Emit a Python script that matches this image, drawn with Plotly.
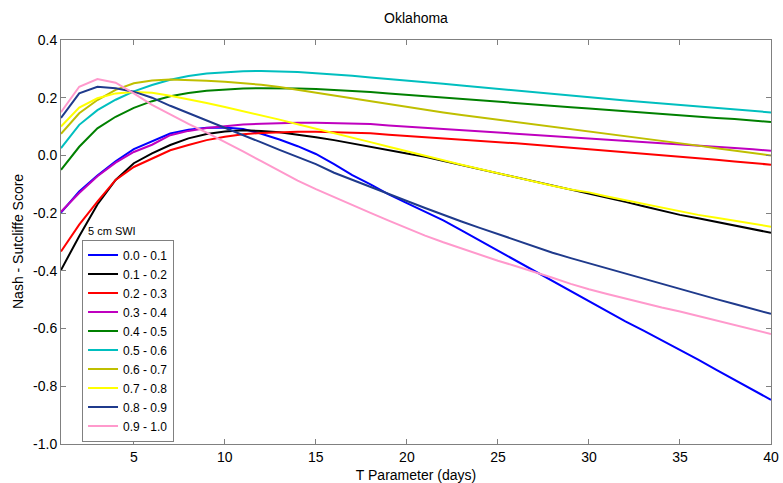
import plotly.graph_objects as go

t_days = list(range(1, 41))

swi_labels = ["0.0 - 0.1", "0.1 - 0.2", "0.2 - 0.3", "0.3 - 0.4", "0.4 - 0.5",
              "0.5 - 0.6", "0.6 - 0.7", "0.7 - 0.8", "0.8 - 0.9", "0.9 - 1.0"]
colors = ["#0000FF", "#000000", "#FF0000", "#BF00BF", "#008000",
          "#00BFBF", "#BFBF00", "#FFFF00", "#1F3A8C", "#FF99CC"]

swi_00_01 = [-0.198, -0.125, -0.07, -0.02, 0.022, 0.05, 0.076, 0.089, 0.096, 0.097,
             0.092, 0.075, 0.055, 0.032, 0.005, -0.03, -0.068, -0.1, -0.135, -0.165,
             -0.195, -0.225, -0.26, -0.295, -0.33, -0.365, -0.4, -0.435, -0.47, -0.507,
             -0.54, -0.575, -0.607, -0.64, -0.674, -0.708, -0.743, -0.778, -0.812, -0.847]
swi_01_02 = [-0.397, -0.28, -0.17, -0.085, -0.027, 0.007, 0.036, 0.059, 0.074, 0.083,
             0.087, 0.085, 0.08, 0.072, 0.063, 0.053, 0.042, 0.031, 0.019, 0.007,
             -0.005, -0.019, -0.033, -0.047, -0.061, -0.075, -0.089, -0.103, -0.117, -0.131,
             -0.146, -0.161, -0.176, -0.191, -0.206, -0.218, -0.231, -0.243, -0.256, -0.268]
swi_02_03 = [-0.333, -0.24, -0.16, -0.085, -0.04, -0.01, 0.018, 0.036, 0.053, 0.065,
             0.073, 0.078, 0.081, 0.082, 0.082, 0.081, 0.079, 0.077, 0.072, 0.068,
             0.064, 0.06, 0.056, 0.051, 0.047, 0.042, 0.037, 0.032, 0.026, 0.021,
             0.016, 0.011, 0.006, 0.001, -0.004, -0.01, -0.015, -0.021, -0.026, -0.032]
swi_03_04 = [-0.195, -0.13, -0.072, -0.025, 0.012, 0.037, 0.07, 0.085, 0.095, 0.102,
             0.107, 0.11, 0.112, 0.113, 0.113, 0.112, 0.111, 0.109, 0.104, 0.1,
             0.096, 0.092, 0.088, 0.084, 0.08, 0.076, 0.071, 0.067, 0.063, 0.059,
             0.055, 0.051, 0.048, 0.044, 0.04, 0.035, 0.03, 0.026, 0.021, 0.016]
swi_04_05 = [-0.05, 0.03, 0.094, 0.134, 0.165, 0.188, 0.205, 0.216, 0.224, 0.229,
             0.232, 0.233, 0.233, 0.232, 0.23, 0.227, 0.224, 0.22, 0.215, 0.21,
             0.205, 0.2, 0.195, 0.19, 0.185, 0.18, 0.175, 0.171, 0.167, 0.163,
             0.158, 0.154, 0.149, 0.145, 0.14, 0.135, 0.13, 0.126, 0.121, 0.116]
swi_05_06 = [0.025, 0.106, 0.157, 0.193, 0.222, 0.244, 0.262, 0.275, 0.284, 0.289,
             0.292, 0.293, 0.292, 0.289, 0.285, 0.281, 0.276, 0.27, 0.265, 0.259,
             0.253, 0.248, 0.242, 0.236, 0.231, 0.225, 0.219, 0.213, 0.207, 0.201,
             0.196, 0.19, 0.185, 0.18, 0.175, 0.17, 0.164, 0.159, 0.154, 0.149]
swi_06_07 = [0.075, 0.146, 0.192, 0.227, 0.25, 0.26, 0.263, 0.262, 0.259, 0.255,
             0.25, 0.245, 0.237, 0.227, 0.217, 0.207, 0.197, 0.187, 0.177, 0.167,
             0.157, 0.149, 0.14, 0.132, 0.124, 0.115, 0.107, 0.099, 0.091, 0.083,
             0.075, 0.066, 0.058, 0.05, 0.042, 0.034, 0.025, 0.017, 0.008, 0.0]
swi_07_08 = [0.1, 0.166, 0.198, 0.215, 0.22, 0.217, 0.207, 0.195, 0.182, 0.168,
             0.154, 0.139, 0.124, 0.108, 0.093, 0.077, 0.061, 0.046, 0.03, 0.014,
             -0.002, -0.017, -0.032, -0.047, -0.062, -0.077, -0.091, -0.105, -0.118, -0.128,
             -0.142, -0.155, -0.169, -0.182, -0.195, -0.206, -0.216, -0.227, -0.237, -0.247]
swi_08_09 = [0.13, 0.215, 0.238, 0.233, 0.221, 0.2, 0.172, 0.147, 0.12, 0.095,
             0.07, 0.045, 0.019, -0.006, -0.03, -0.06, -0.085, -0.11, -0.133, -0.158,
             -0.182, -0.206, -0.229, -0.251, -0.273, -0.294, -0.315, -0.337, -0.356, -0.374,
             -0.392, -0.41, -0.428, -0.446, -0.463, -0.48, -0.498, -0.515, -0.532, -0.549]
swi_09_10 = [0.15, 0.238, 0.265, 0.252, 0.215, 0.175, 0.142, 0.109, 0.079, 0.047,
             0.014, -0.02, -0.054, -0.087, -0.117, -0.145, -0.172, -0.199, -0.226, -0.252,
             -0.278, -0.301, -0.323, -0.345, -0.365, -0.384, -0.403, -0.424, -0.445, -0.464,
             -0.48, -0.496, -0.512, -0.527, -0.541, -0.557, -0.573, -0.589, -0.604, -0.619]

series = [swi_00_01, swi_01_02, swi_02_03, swi_03_04, swi_04_05,
          swi_05_06, swi_06_07, swi_07_08, swi_08_09, swi_09_10]

x_ticks = [5, 10, 15, 20, 25, 30, 35, 40]
y_ticks = [-1.0, -0.8, -0.6, -0.4, -0.2, 0.0, 0.2, 0.4]

FONT = "Arial, Liberation Sans, sans-serif"

fig = go.Figure()
for name, col, vals in zip(swi_labels, colors, series):
    fig.add_trace(go.Scatter(x=t_days, y=vals, mode="lines", name=name,
                             line=dict(color=col, width=2)))

axis_common = dict(showline=True, linecolor="#808080", linewidth=1, mirror="ticks",
                   ticks="inside", ticklen=5, tickcolor="#808080", showgrid=False,
                   zeroline=False, automargin=False,
                   tickfont=dict(family=FONT, size=14, color="black"))

fig.update_layout(
    width=783, height=483,
    margin=dict(l=61, r=12, t=40, b=39, autoexpand=False),
    paper_bgcolor="white", plot_bgcolor="white",
    font=dict(family=FONT, color="black"),
    title=dict(text="Oklahoma", x=0.5, xanchor="center", xref="paper",
               y=0.962, yanchor="middle", font=dict(size=14)),
    xaxis=dict(range=[1, 40], tickvals=x_ticks, ticktext=[str(v) for v in x_ticks],
               title=dict(text="T Parameter (days)", font=dict(size=14)),
               **axis_common),
    yaxis=dict(range=[-1.0, 0.4], tickvals=y_ticks,
               ticktext=[f"{v:.1f}" for v in y_ticks],
               **axis_common),
    legend=dict(x=0.0296, y=0.006, xanchor="left", yanchor="bottom",
                bgcolor="white", bordercolor="#808080", borderwidth=1,
                font=dict(size=12, family=FONT), tracegroupgap=0,
                itemwidth=30),
    showlegend=True,
)

fig.add_annotation(text="Nash - Sutcliffe Score", xref="paper", yref="paper",
                   x=(18 - 61) / 710, y=0.5, textangle=-90,
                   xanchor="center", yanchor="middle", showarrow=False,
                   font=dict(size=14, family=FONT))

fig.add_annotation(text="5 cm SWI", xref="paper", yref="paper",
                   x=(112 - 61) / 710, y=(444 - 231) / 404,
                   xanchor="center", yanchor="middle", showarrow=False,
                   font=dict(size=11, family=FONT))

fig.write_html("out.html")
